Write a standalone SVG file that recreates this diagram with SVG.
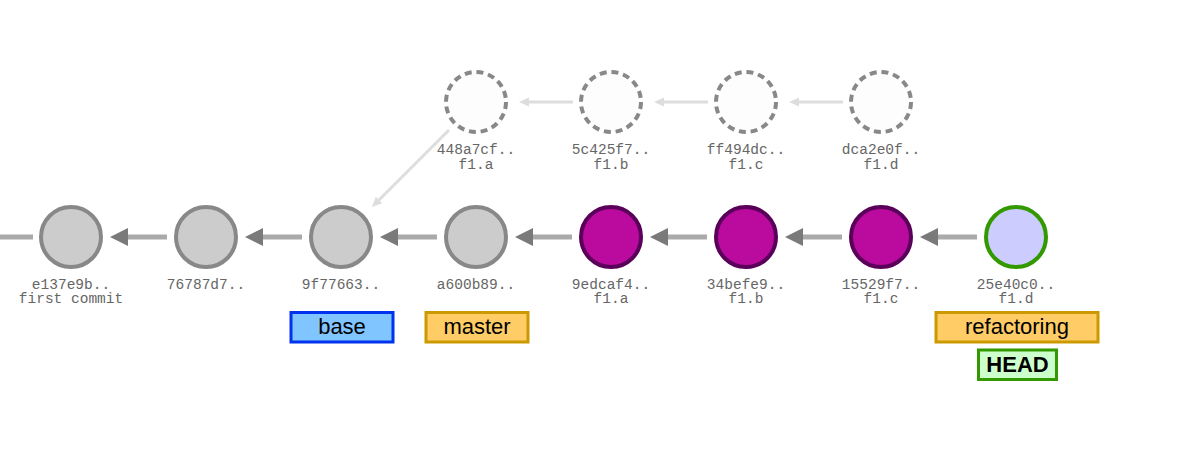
<svg xmlns="http://www.w3.org/2000/svg" width="1200" height="460" viewBox="0 0 1200 460">
<style>
.c{stroke-width:4}
.old{fill:#cccccc;stroke:#888888}
.new{fill:#bb0a9e;stroke:#5a005a}
.head{fill:#ccccff;stroke:#339900}
.ghost{fill:#fdfdfd;stroke:#888888;stroke-dasharray:7 4.8}
.link{stroke:#aaaaaa;stroke-width:5;fill:none}
.glink{stroke:#dddddd;stroke-width:3;fill:none}
.h{font-family:"Liberation Mono","Courier New",monospace;font-size:14.5px;fill:#666666;text-anchor:middle}
.b{font-family:"Liberation Sans",Arial,sans-serif;font-size:22px;fill:#000;text-anchor:middle}
</style>
<defs>
<marker id="ah" markerUnits="userSpaceOnUse" markerWidth="18" markerHeight="18" refX="0" refY="9" orient="auto" overflow="visible">
<path d="M0,0 L18,9 L0,18 Z" fill="#7a7a7a"/>
</marker>
<marker id="gh" markerUnits="userSpaceOnUse" markerWidth="10" markerHeight="9" refX="0" refY="4.5" orient="auto" overflow="visible">
<path d="M0,0 L10,4.5 L0,9 Z" fill="#dddddd"/>
</marker>
</defs>
<g id="connectors">
<line class="link" x1="0" y1="237" x2="33" y2="237"/>
<line class="link" x1="167" y1="237" x2="128" y2="237" marker-end="url(#ah)"/>
<line class="link" x1="302" y1="237" x2="263" y2="237" marker-end="url(#ah)"/>
<line class="link" x1="437" y1="237" x2="398" y2="237" marker-end="url(#ah)"/>
<line class="link" x1="572" y1="237" x2="533" y2="237" marker-end="url(#ah)"/>
<line class="link" x1="707" y1="237" x2="668" y2="237" marker-end="url(#ah)"/>
<line class="link" x1="842" y1="237" x2="803" y2="237" marker-end="url(#ah)"/>
<line class="link" x1="977" y1="237" x2="938" y2="237" marker-end="url(#ah)"/>
<line class="glink" x1="843" y1="102" x2="799" y2="102" marker-end="url(#gh)"/>
<line class="glink" x1="708" y1="102" x2="664" y2="102" marker-end="url(#gh)"/>
<line class="glink" x1="573" y1="102" x2="529" y2="102" marker-end="url(#gh)"/>
<line class="glink" x1="449" y1="130" x2="379" y2="200" marker-end="url(#gh)"/>
</g>
<g id="n-e137e9b"><circle class="c old" cx="71" cy="237" r="30"/><text class="h" x="71" y="288.5">e137e9b..</text><text class="h" x="71" y="303">first commit</text></g>
<g id="n-76787d7"><circle class="c old" cx="206" cy="237" r="30"/><text class="h" x="206" y="288.5">76787d7..</text></g>
<g id="n-9f77663"><circle class="c old" cx="341" cy="237" r="30"/><text class="h" x="341" y="288.5">9f77663..</text></g>
<g id="n-a600b89"><circle class="c old" cx="476" cy="237" r="30"/><text class="h" x="476" y="288.5">a600b89..</text></g>
<g id="n-9edcaf4"><circle class="c new" cx="611" cy="237" r="30"/><text class="h" x="611" y="288.5">9edcaf4..</text><text class="h" x="611" y="303">f1.a</text></g>
<g id="n-34befe9"><circle class="c new" cx="746" cy="237" r="30"/><text class="h" x="746" y="288.5">34befe9..</text><text class="h" x="746" y="303">f1.b</text></g>
<g id="n-15529f7"><circle class="c new" cx="881" cy="237" r="30"/><text class="h" x="881" y="288.5">15529f7..</text><text class="h" x="881" y="303">f1.c</text></g>
<g id="n-25e40c0"><circle class="c head" cx="1016" cy="237" r="30"/><text class="h" x="1016" y="288.5">25e40c0..</text><text class="h" x="1016" y="303">f1.d</text></g>
<g id="n-448a7cf"><circle class="c ghost" cx="476" cy="102" r="30"/><text class="h" x="476" y="154">448a7cf..</text><text class="h" x="476" y="169">f1.a</text></g>
<g id="n-5c425f7"><circle class="c ghost" cx="611" cy="102" r="30"/><text class="h" x="611" y="154">5c425f7..</text><text class="h" x="611" y="169">f1.b</text></g>
<g id="n-ff494dc"><circle class="c ghost" cx="746" cy="102" r="30"/><text class="h" x="746" y="154">ff494dc..</text><text class="h" x="746" y="169">f1.c</text></g>
<g id="n-dca2e0f"><circle class="c ghost" cx="881" cy="102" r="30"/><text class="h" x="881" y="154">dca2e0f..</text><text class="h" x="881" y="169">f1.d</text></g>
<g id="b-base"><rect x="291" y="312.5" width="102" height="29.5" fill="#80c5ff" stroke="#0033ee" stroke-width="3"/><text class="b" x="342" y="334">base</text></g>
<g id="b-master"><rect x="426" y="312.5" width="102" height="29.5" fill="#ffcc66" stroke="#cc9900" stroke-width="3"/><text class="b" x="477" y="334">master</text></g>
<g id="b-refactoring"><rect x="936" y="312.5" width="162" height="29.5" fill="#ffcc66" stroke="#cc9900" stroke-width="3"/><text class="b" x="1017" y="334">refactoring</text></g>
<g id="b-head"><rect x="978.5" y="350" width="78" height="29.5" fill="#ccffcc" stroke="#339900" stroke-width="3"/><text class="b" x="1017.5" y="372" font-weight="bold">HEAD</text></g>
</svg>
